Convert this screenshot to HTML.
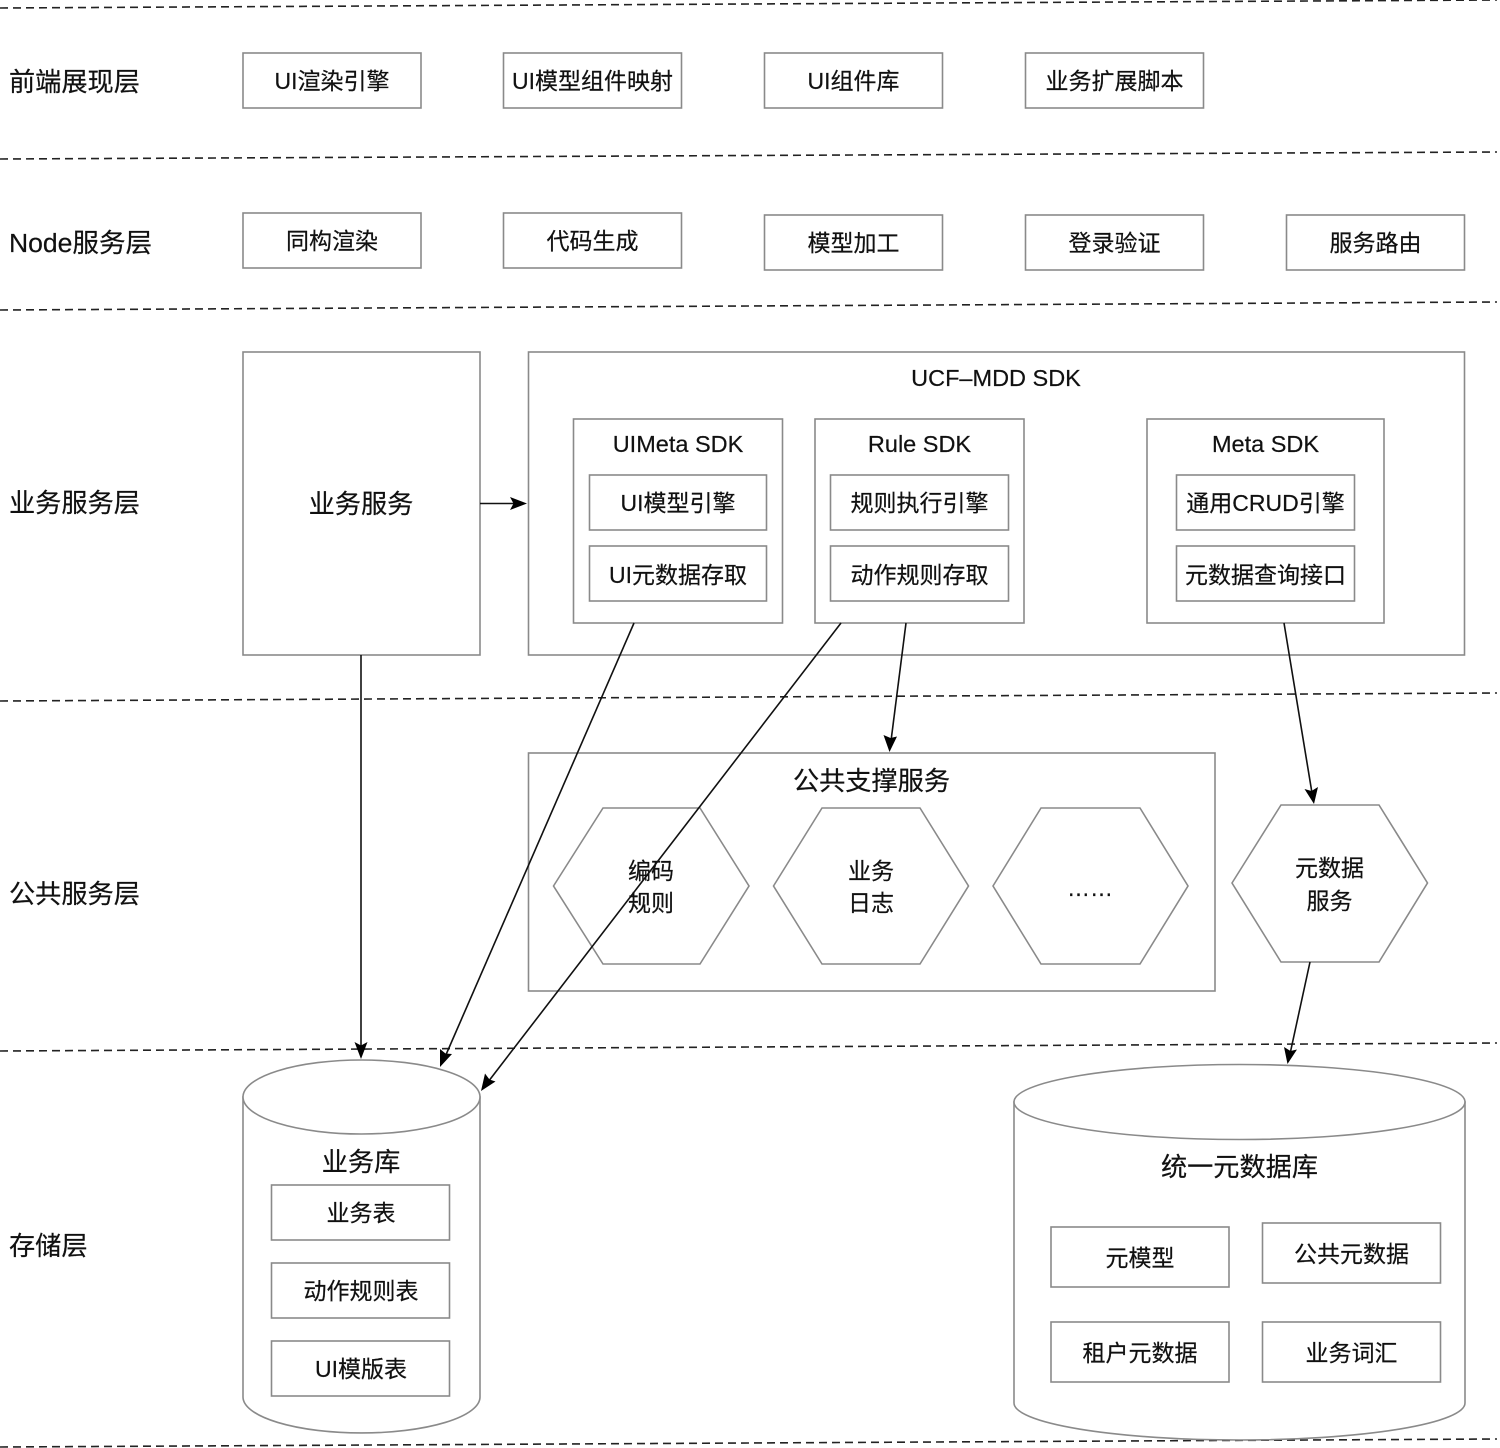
<!DOCTYPE html>
<html lang="zh">
<head>
<meta charset="utf-8">
<style>
html,body{margin:0;padding:0;background:#fff;width:1500px;height:1448px;overflow:hidden}
svg{display:block}
text{font-family:"Liberation Sans","Noto Sans CJK SC",sans-serif;fill:#111;stroke:#111;stroke-width:.2;text-anchor:middle;dominant-baseline:central}
.l{font-size:26.200px;text-anchor:start}
.t{font-size:23px}
.m{font-size:23.500px}
.b{font-size:26.200px}
rect,polygon,ellipse,.s{fill:#fff;stroke:#8a8a8a;stroke-width:1.600}
.d{stroke:#222;stroke-width:1.600;stroke-dasharray:8 5;fill:none}
.a{stroke:#111;stroke-width:1.600;fill:none}
.h{fill:#000;stroke:none}
</style>
</head>
<body>
<svg width="1500" height="1448" viewBox="0 0 1500 1448" xmlns="http://www.w3.org/2000/svg">
<line class="d" x1="0" y1="8" x2="1497" y2="0"/>
<line class="d" x1="0" y1="159" x2="1497" y2="152"/>
<line class="d" x1="0" y1="310" x2="1497" y2="302"/>
<line class="d" x1="0" y1="701" x2="1497" y2="693"/>
<line class="d" x1="0" y1="1051" x2="1497" y2="1043"/>
<line class="d" x1="0" y1="1447" x2="1497" y2="1439"/>

<text class="l" x="9" y="82">前端展现层</text>
<text class="l" x="9" y="243" textLength="143" lengthAdjust="spacingAndGlyphs">Node服务层</text>
<text class="l" x="9" y="503">业务服务层</text>
<text class="l" x="9" y="894">公共服务层</text>
<text class="l" x="9" y="1246">存储层</text>

<rect x="243" y="53" width="178" height="55"/><text class="t" x="332" y="81">UI渲染引擎</text>
<rect x="503.500" y="53" width="178" height="55"/><text class="t" x="592.500" y="81">UI模型组件映射</text>
<rect x="764.500" y="53" width="178" height="55"/><text class="t" x="853.500" y="81">UI组件库</text>
<rect x="1025.500" y="53" width="178" height="55"/><text class="t" x="1114.500" y="81">业务扩展脚本</text>

<rect x="243" y="213" width="178" height="55"/><text class="t" x="332" y="241">同构渲染</text>
<rect x="503.500" y="213" width="178" height="55"/><text class="t" x="592.500" y="241">代码生成</text>
<rect x="764.500" y="215" width="178" height="55"/><text class="t" x="853.500" y="243">模型加工</text>
<rect x="1025.500" y="215" width="178" height="55"/><text class="t" x="1114.500" y="243">登录验证</text>
<rect x="1286.500" y="215" width="178" height="55"/><text class="t" x="1375.500" y="243">服务路由</text>

<rect x="243" y="352" width="237" height="303"/><text class="b" x="361" y="504">业务服务</text>
<rect x="528.500" y="352" width="936" height="303"/><text class="m" x="996" y="378">UCF–MDD SDK</text>

<rect x="573.500" y="419" width="209" height="204"/><text class="m" x="678" y="444">UIMeta SDK</text>
<rect x="589.500" y="475" width="177" height="55"/><text class="t" x="678" y="503">UI模型引擎</text>
<rect x="589.500" y="546" width="177" height="55"/><text class="t" x="678" y="575">UI元数据存取</text>

<rect x="815" y="419" width="209" height="204"/><text class="m" x="919.500" y="444">Rule SDK</text>
<rect x="830.500" y="475" width="178" height="55"/><text class="t" x="919.500" y="503">规则执行引擎</text>
<rect x="830.500" y="546" width="178" height="55"/><text class="t" x="919.500" y="575">动作规则存取</text>

<rect x="1147" y="419" width="237" height="204"/><text class="m" x="1265.500" y="444">Meta SDK</text>
<rect x="1176.500" y="475" width="178" height="55"/><text class="t" x="1265.500" y="503">通用CRUD引擎</text>
<rect x="1176.500" y="546" width="178" height="55"/><text class="t" x="1265.500" y="575">元数据查询接口</text>

<rect x="528.500" y="753" width="686.500" height="238"/><text class="b" x="871.500" y="781">公共支撑服务</text>
<polygon points="553.500,886 603,808 700,808 749,886 700,964 603,964"/>
<text class="t" x="651" y="871">编码</text><text class="t" x="651" y="903">规则</text>
<polygon points="773.500,886 822,808 920,808 968.500,886 920,964 822,964"/>
<text class="t" x="871" y="871">业务</text><text class="t" x="871" y="903">日志</text>
<polygon points="993,886 1041,808 1140,808 1188,886 1140,964 1041,964"/>
<text class="t" x="1090" y="888">……</text>
<polygon points="1232,883 1281,805 1379,805 1427.500,883 1379,962 1281,962"/>
<text class="t" x="1329.500" y="868">元数据</text><text class="t" x="1329.500" y="901">服务</text>

<path class="s" d="M243,1097 V1397 A118.500,36 0 0 0 480,1397 V1097 Z"/>
<ellipse cx="361.500" cy="1097" rx="118.500" ry="37"/>
<text class="b" x="361" y="1162">业务库</text>
<rect x="271.500" y="1185" width="178" height="55"/><text class="t" x="361" y="1213">业务表</text>
<rect x="271.500" y="1263" width="178" height="55"/><text class="t" x="361" y="1291">动作规则表</text>
<rect x="271.500" y="1341" width="178" height="55"/><text class="t" x="361" y="1369">UI模版表</text>

<path class="s" d="M1014,1102 V1403 A225.500,37 0 0 0 1465,1403 V1102 Z"/>
<ellipse cx="1239.500" cy="1102" rx="225.500" ry="37.500"/>
<text class="b" x="1239.500" y="1167">统一元数据库</text>
<rect x="1051" y="1227" width="178" height="60"/><text class="t" x="1140" y="1258">元模型</text>
<rect x="1262.500" y="1223" width="178" height="60"/><text class="t" x="1351.500" y="1254">公共元数据</text>
<rect x="1051" y="1322" width="178" height="60"/><text class="t" x="1140" y="1353">租户元数据</text>
<rect x="1262.500" y="1322" width="178" height="60"/><text class="t" x="1351.500" y="1353">业务词汇</text>

<line class="a" x1="480" y1="503.500" x2="516" y2="503.500"/>
<polygon class="h" points="527,503.500 510,497 513.500,503.500 510,510"/>
<line class="a" x1="361" y1="655" x2="361" y2="1048"/>
<polygon class="h" points="361,1059 354.500,1042 361,1045.500 367.500,1042"/>
<line class="a" x1="634" y1="623" x2="445" y2="1057"/>
<polygon class="h" points="440,1067 440,1049 445.500,1053.500 452,1054"/>
<line class="a" x1="841" y1="623" x2="488" y2="1082"/>
<polygon class="h" points="481,1091 485,1073.500 489.500,1079.500 495.500,1081.500"/>
<line class="a" x1="906" y1="623" x2="891" y2="741"/>
<polygon class="h" points="889.500,752 883.500,735 890.500,738 897,736.500"/>
<line class="a" x1="1284" y1="623" x2="1312" y2="793"/>
<polygon class="h" points="1314,804 1304.500,789 1311.500,791 1318,787"/>
<line class="a" x1="1310" y1="962" x2="1290" y2="1054"/>
<polygon class="h" points="1287.500,1064 1284,1047 1290.500,1051 1297,1049.500"/>
</svg>
</body>
</html>
